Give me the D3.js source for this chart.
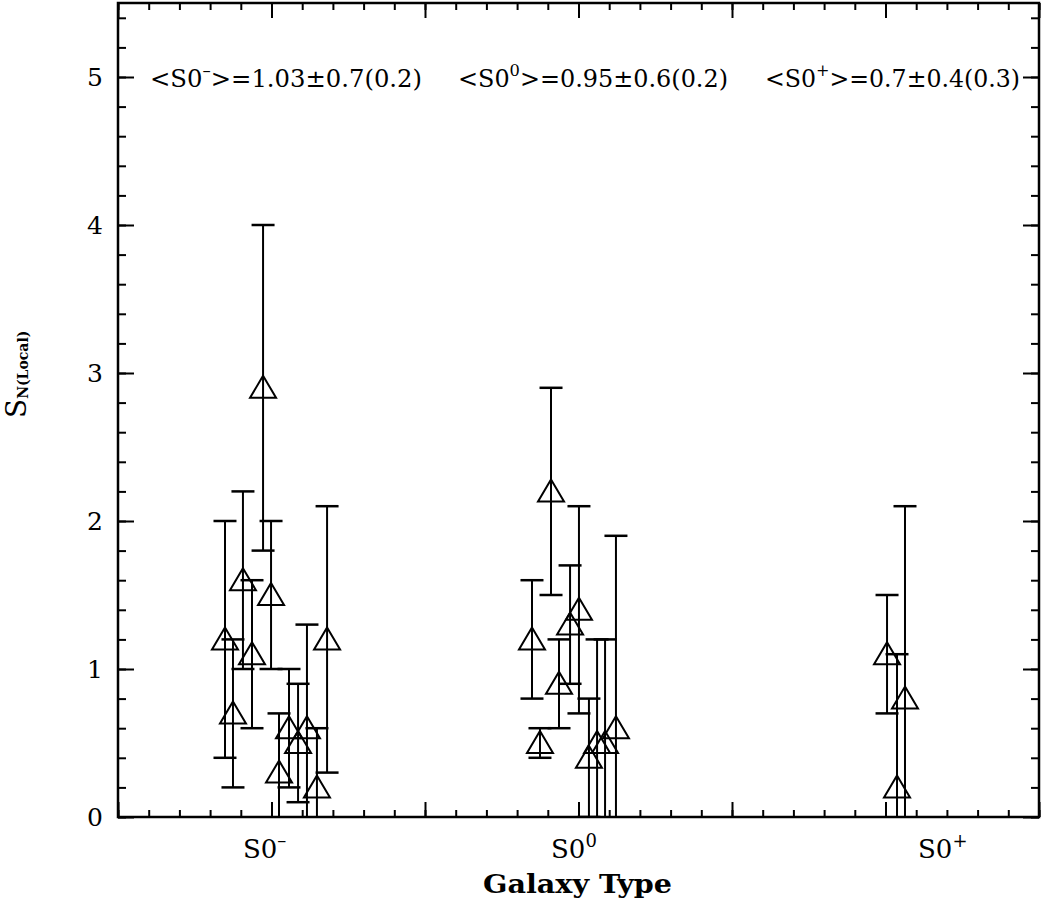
<!DOCTYPE html>
<html>
<head>
<meta charset="utf-8">
<script src="https://cdn.jsdelivr.net/npm/d3@7"></script>
<style>
body { margin: 0; background: #ffffff; }
text { font-family: "DejaVu Serif", serif; fill: #000; }
</style>
</head>
<body>
<div></div>
<script>
// galaxy types and where their names sit on the x axis
let groupNames = ["S0", "S0", "S0"];
let groupSup = ["\u2013", "0", "+"];
let groupLabelX = [0.814, 2.821, 5.212];

// mean S_N for each type (top annotations)
let meanText = ["1.03\u00b10.7(0.2)", "0.95\u00b10.6(0.2)", "0.7\u00b10.4(0.3)"];

// points: x position, S_N value, error
let xS0m = [0.697, 0.749, 0.814, 0.873, 0.945, 0.997, 1.049, 1.114, 1.173, 1.231, 1.296, 1.362];
let yS0m = [1.2, 0.7, 1.6, 1.1, 2.9, 1.5, 0.3, 0.6, 0.5, 0.6, 0.2, 1.2];
let eS0m = [0.8, 0.5, 0.6, 0.5, 1.1, 0.5, 0.4, 0.4, 0.4, 0.7, 0.4, 0.9];

let xS00 = [2.697, 2.749, 2.821, 2.873, 2.945, 3.003, 3.068, 3.121, 3.173, 3.244];
let yS00 = [1.2, 0.5, 2.2, 0.9, 1.3, 1.4, 0.4, 0.5, 0.5, 0.6];
let eS00 = [0.4, 0.1, 0.7, 0.3, 0.4, 0.7, 0.4, 0.7, 0.7, 1.3];

let xS0p = [5.01, 5.075, 5.127];
let yS0p = [1.1, 0.2, 0.8];
let eS0p = [0.4, 0.9, 1.3];

let yTickLabels = [0, 1, 2, 3, 4, 5];

let svgWidth = 1044;
let svgHeight = 900;
let plotLeft = 118, plotRight = 1039, plotTop = 3, plotBottom = 817;

let svg = d3.select("body div")
    .append("svg")
    .attr("width", svgWidth)
    .attr("height", svgHeight);

let x = d3.scaleLinear().domain([0, 6]).range([plotLeft, plotRight]);
let y = d3.scaleLinear().domain([0, 5.5]).range([plotBottom, plotTop]);

function drawAxes()
{
	let minorX = d3.range(0, 6.001, 0.2);
	let minorY = d3.range(0, 5.501, 0.2);
	let majorX = d3.range(0, 7, 1);

	//bottom + top ticks, pointing inward
	svg.append("g").attr("transform", "translate(0," + plotBottom + ")")
		.call(d3.axisBottom(x).tickValues(minorX).tickSize(-7).tickFormat(""));
	svg.append("g").attr("transform", "translate(0," + plotBottom + ")")
		.call(d3.axisBottom(x).tickValues(majorX).tickSize(-15).tickFormat(""));
	svg.append("g").attr("transform", "translate(0," + plotTop + ")")
		.call(d3.axisTop(x).tickValues(minorX).tickSize(-7).tickFormat(""));
	svg.append("g").attr("transform", "translate(0," + plotTop + ")")
		.call(d3.axisTop(x).tickValues(majorX).tickSize(-15).tickFormat(""));

	//left + right ticks
	svg.append("g").attr("transform", "translate(" + plotLeft + ",0)")
		.call(d3.axisLeft(y).tickValues(minorY).tickSize(-8).tickFormat(""));
	svg.append("g").attr("transform", "translate(" + plotLeft + ",0)")
		.call(d3.axisLeft(y).tickValues(yTickLabels).tickSize(-16).tickFormat(""));
	svg.append("g").attr("transform", "translate(" + plotRight + ",0)")
		.call(d3.axisRight(y).tickValues(minorY).tickSize(-8).tickFormat(""));
	svg.append("g").attr("transform", "translate(" + plotRight + ",0)")
		.call(d3.axisRight(y).tickValues(yTickLabels).tickSize(-16).tickFormat(""));

	svg.selectAll(".domain").remove();
	svg.selectAll(".tick line").attr("stroke", "#000").attr("stroke-width", 2);

	svg.append("rect")
		.attr("x", plotLeft).attr("y", plotTop)
		.attr("width", plotRight - plotLeft).attr("height", plotBottom - plotTop)
		.attr("fill", "none").attr("stroke", "#000").attr("stroke-width", 2.5);

	//y tick labels
	svg.selectAll(".ylab").data(yTickLabels).enter()
		.append("text")
		.attr("x", 95)
		.attr("y", d => y(d) + 9)
		.attr("text-anchor", "middle")
		.attr("font-size", 25)
		.text(d => d);

	//galaxy type labels
	for (let i = 0; i < groupNames.length; i++)
	{
		let t = svg.append("text")
			.attr("x", x(groupLabelX[i]))
			.attr("y", 858)
			.attr("font-size", 26);
		t.append("tspan").text(groupNames[i]);
		t.append("tspan").attr("dy", -11).attr("font-size", 18).text(groupSup[i]);
	}

	svg.append("text")
		.attr("x", 483).attr("y", 893)
		.attr("font-size", 26)
		.attr("font-weight", "bold")
		.attr("textLength", 189)
		.attr("lengthAdjust", "spacingAndGlyphs")
		.text("Galaxy Type");

	//y label, S with subscript
	let yl = svg.append("text")
		.attr("transform", "translate(26,418) rotate(-90)")
		.attr("font-size", 28);
	yl.append("tspan").text("S");
	yl.append("tspan").attr("dy", 2).attr("font-size", 14).attr("font-weight", "bold").text("N(Local)");
}

function drawMeans()
{
	let startX = [150, 458, 765];
	let widths = [272, 270, 255];
	for (let i = 0; i < meanText.length; i++)
	{
		let t = svg.append("text")
			.attr("x", startX[i]).attr("y", 87)
			.attr("font-size", 25)
			.attr("textLength", widths[i])
			.attr("lengthAdjust", "spacingAndGlyphs");
		t.append("tspan").text("<" + groupNames[i]);
		t.append("tspan").attr("dy", -11).attr("font-size", 17).text(groupSup[i]);
		t.append("tspan").attr("dy", 11).text(">=" + meanText[i]);
	}
}

function drawPoints(xs, ys, es)
{
	let clip = svg.append("g").attr("clip-path", "url(#plotclip)");
	let cap = 11.5;
	for (let i = 0; i < xs.length; i++)
	{
		let px = x(xs[i]);
		clip.append("line")
			.attr("x1", px).attr("x2", px)
			.attr("y1", y(ys[i] + es[i])).attr("y2", y(ys[i] - es[i]))
			.attr("stroke", "#000").attr("stroke-width", 2);
		[ys[i] + es[i], ys[i] - es[i]].forEach(v => {
			clip.append("line")
				.attr("x1", px - cap).attr("x2", px + cap)
				.attr("y1", y(v)).attr("y2", y(v))
				.attr("stroke", "#000").attr("stroke-width", 2.5);
		});
		let py = y(ys[i]);
		clip.append("path")
			.attr("d", "M" + px + "," + (py - 12) + "L" + (px + 13) + "," + (py + 10) + "L" + (px - 13) + "," + (py + 10) + "Z")
			.attr("fill", "none")
			.attr("stroke", "#000").attr("stroke-width", 2);
	}
}

svg.append("defs").append("clipPath").attr("id", "plotclip")
	.append("rect")
	.attr("x", plotLeft).attr("y", plotTop)
	.attr("width", plotRight - plotLeft).attr("height", plotBottom - plotTop);

drawAxes();
drawMeans();
drawPoints(xS0m, yS0m, eS0m);
drawPoints(xS00, yS00, eS00);
drawPoints(xS0p, yS0p, eS0p);
</script>
</body>
</html>
